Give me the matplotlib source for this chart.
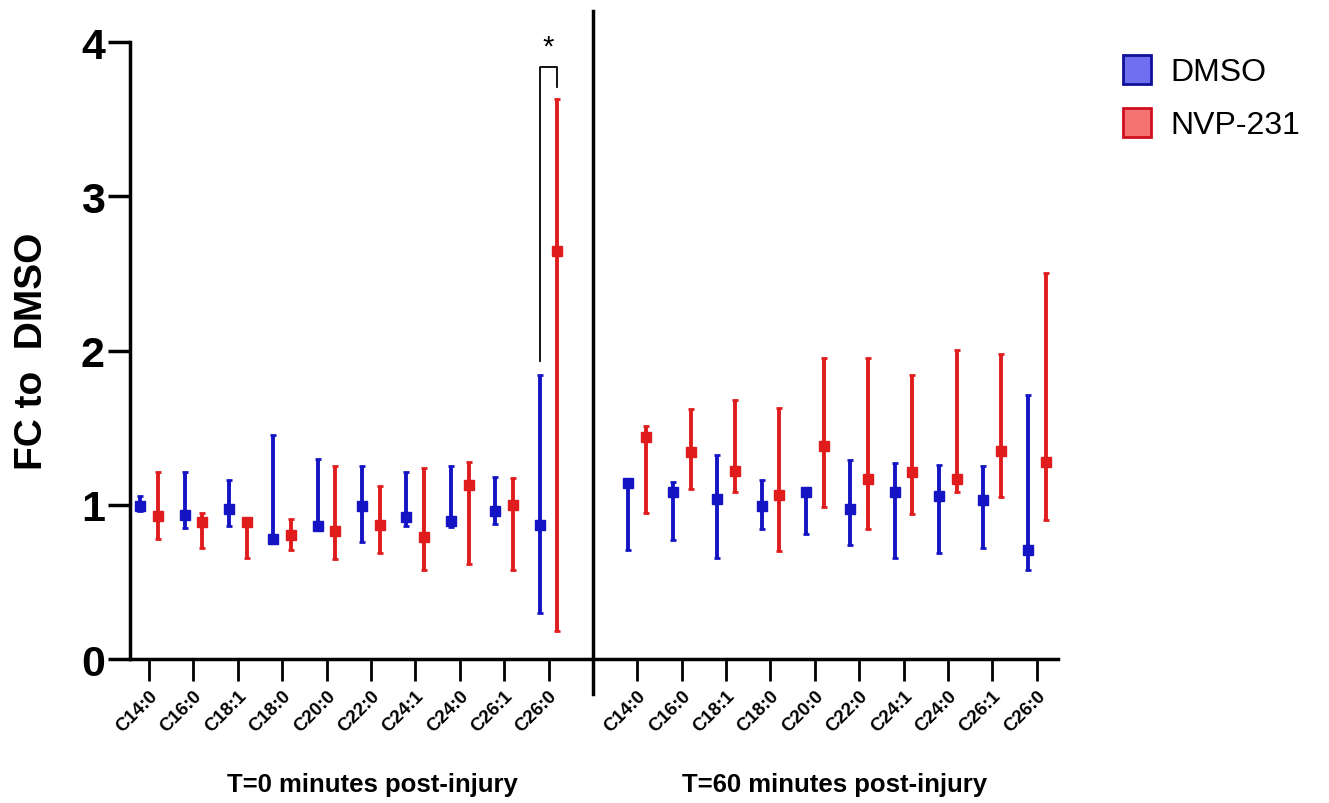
import numpy as np
import matplotlib.pyplot as plt
from matplotlib.patches import Patch

plt.rcParams['font.family'] = ['Liberation Sans', 'DejaVu Sans']

lipids = ['C14:0', 'C16:0', 'C18:1', 'C18:0', 'C20:0',
          'C22:0', 'C24:1', 'C24:0', 'C26:1', 'C26:0']

# T=0 minutes post-injury
dmso_t0 = [0.99, 0.935, 0.97, 0.78, 0.865, 0.99, 0.92, 0.895, 0.96, 0.87]
dmso_t0_lo = [0.96, 0.85, 0.865, 0.77, 0.85, 0.76, 0.865, 0.855, 0.875, 0.30]
dmso_t0_hi = [1.06, 1.21, 1.16, 1.45, 1.30, 1.25, 1.215, 1.25, 1.18, 1.84]
nvp_t0 = [0.925, 0.886, 0.89, 0.805, 0.83, 0.87, 0.79, 1.13, 1.0, 2.645]
nvp_t0_lo = [0.78, 0.72, 0.655, 0.71, 0.65, 0.685, 0.58, 0.615, 0.58, 0.18]
nvp_t0_hi = [1.21, 0.95, 0.90, 0.91, 1.25, 1.12, 1.24, 1.275, 1.175, 3.63]

# T=60 minutes post-injury
dmso_t60 = [1.14, 1.08, 1.04, 0.995, 1.08, 0.975, 1.085, 1.055, 1.03, 0.71]
dmso_t60_lo = [0.71, 0.77, 0.655, 0.84, 0.81, 0.74, 0.655, 0.69, 0.72, 0.58]
dmso_t60_hi = [1.16, 1.15, 1.32, 1.16, 1.10, 1.29, 1.27, 1.255, 1.25, 1.71]
nvp_t60 = [1.44, 1.34, 1.22, 1.065, 1.38, 1.17, 1.21, 1.17, 1.35, 1.275]
nvp_t60_lo = [0.95, 1.105, 1.085, 0.70, 0.985, 0.84, 0.94, 1.085, 1.05, 0.90]
nvp_t60_hi = [1.51, 1.62, 1.68, 1.63, 1.95, 1.95, 1.84, 2.005, 1.98, 2.50]

blue = '#1414c4'
red = '#e01c1c'

fig = plt.figure(figsize=(13.29, 8.04), dpi=100)
ax = fig.add_axes([0.0978, 0.179, 0.698, 0.7675])

n = len(lipids)
x0 = np.arange(n)
x60 = np.arange(n) + n + 1
off = 0.2


def draw(xs, mean, lo, hi, color):
    mean = np.array(mean)
    err = [mean - np.array(lo), np.array(hi) - mean]
    ax.errorbar(xs, mean, yerr=err, fmt='s', color=color, ms=7,
                elinewidth=2.8, capsize=2, capthick=2, zorder=3)


draw(x0 - off, dmso_t0, dmso_t0_lo, dmso_t0_hi, blue)
draw(x0 + off, nvp_t0, nvp_t0_lo, nvp_t0_hi, red)
draw(x60 - off, dmso_t60, dmso_t60_lo, dmso_t60_hi, blue)
draw(x60 + off, nvp_t60, nvp_t60_lo, nvp_t60_hi, red)

# divider between time points
ax.plot([n, n], [-0.227, 4.2], color='black', lw=2.5, clip_on=False)

# significance bracket on C26:0 at T=0
bx1, bx2 = x0[-1] - off, x0[-1] + off
ax.plot([bx1, bx1, bx2, bx2], [1.93, 3.84, 3.84, 3.71], color='black',
        lw=1.3, clip_on=False)
ax.text((bx1 + bx2) / 2, 3.97, '*', ha='center', va='center', fontsize=21)

ax.set_xlim(-0.43, 2 * n + 0.47)
ax.set_ylim(0, 4)
ax.set_yticks([0, 1, 2, 3, 4])
ax.set_yticklabels(['0', '1', '2', '3', '4'], fontsize=31, fontweight='bold')
ax.set_xticks(np.concatenate([x0, x60]))
ax.set_xticklabels(lipids + lipids, rotation=45, ha='right', va='top',
                   rotation_mode='anchor', fontsize=13.5, fontweight='bold')
ax.tick_params(axis='y', length=16, width=2.5, pad=2)
ax.tick_params(axis='x', length=16, width=2, pad=4)
ax.set_ylabel('FC to  DMSO', fontsize=28, fontweight='bold', labelpad=22)

for s in ['top', 'right']:
    ax.spines[s].set_visible(False)
ax.spines['left'].set_linewidth(2.5)
ax.spines['bottom'].set_linewidth(2.5)

fig.text(372 / 1329, 0.024, 'T=0 minutes post-injury', ha='center',
         va='center', fontsize=18.5, fontweight='bold')
fig.text(835 / 1329, 0.024, 'T=60 minutes post-injury', ha='center',
         va='center', fontsize=18.5, fontweight='bold')

handles = [Patch(facecolor='#6f6ff2', edgecolor='#10109a', lw=2, label='DMSO'),
           Patch(facecolor='#f47474', edgecolor='#d01020', lw=2, label='NVP-231')]
fig.legend(handles=handles, loc='upper left', bbox_to_anchor=(0.823, 0.966),
           frameon=False, fontsize=23, handlelength=0.9, handleheight=1.0,
           handletextpad=0.6, labelspacing=0.65)

fig.savefig('out.png', dpi=100)
